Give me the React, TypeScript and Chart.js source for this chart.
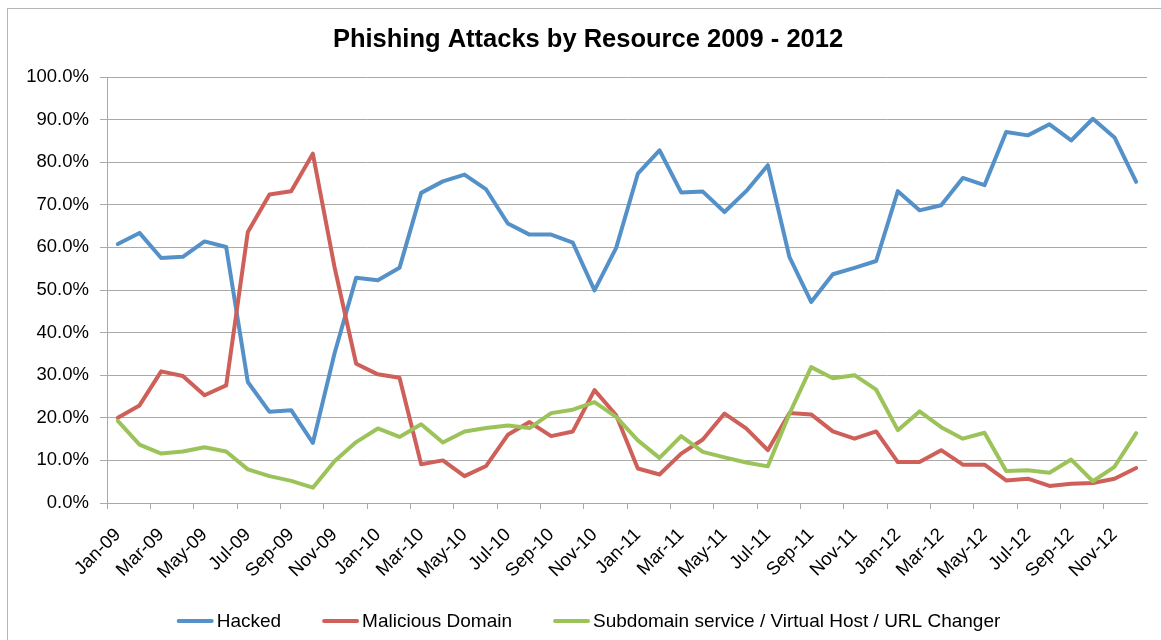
import React, { useEffect, useRef } from "react";
import { Chart, registerables } from "chart.js";

Chart.register(...registerables);

const months: string[] = [
  "Jan-09", "Feb-09", "Mar-09", "Apr-09", "May-09", "Jun-09", "Jul-09", "Aug-09", "Sep-09", "Oct-09", "Nov-09", "Dec-09",
  "Jan-10", "Feb-10", "Mar-10", "Apr-10", "May-10", "Jun-10", "Jul-10", "Aug-10", "Sep-10", "Oct-10", "Nov-10", "Dec-10",
  "Jan-11", "Feb-11", "Mar-11", "Apr-11", "May-11", "Jun-11", "Jul-11", "Aug-11", "Sep-11", "Oct-11", "Nov-11", "Dec-11",
  "Jan-12", "Feb-12", "Mar-12", "Apr-12", "May-12", "Jun-12", "Jul-12", "Aug-12", "Sep-12", "Oct-12", "Nov-12", "Dec-12",
];

const hacked: number[] = [
  60.8, 63.4, 57.5, 57.8, 61.4, 60.1, 28.4, 21.4, 21.8, 14.1, 35.1, 52.9,
  52.3, 55.2, 72.8, 75.5, 77.1, 73.6, 65.6, 63.0, 63.0, 61.1, 49.9, 59.9,
  77.3, 82.8, 72.9, 73.1, 68.3, 73.2, 79.3, 57.7, 47.2, 53.7, 55.2, 56.8,
  73.2, 68.7, 69.9, 76.3, 74.6, 87.1, 86.3, 88.9, 85.1, 90.2, 85.8, 75.4,
];

const maliciousDomain: number[] = [
  20.0, 22.9, 30.9, 29.8, 25.3, 27.6, 63.6, 72.4, 73.2, 82.0, 55.4, 32.7,
  30.2, 29.4, 9.1, 10.0, 6.3, 8.7, 16.0, 19.0, 15.7, 16.8, 26.5, 20.6,
  8.1, 6.7, 11.6, 14.9, 21.0, 17.5, 12.4, 21.1, 20.8, 16.8, 15.1, 16.8,
  9.6, 9.6, 12.4, 9.0, 9.0, 5.3, 5.7, 4.0, 4.5, 4.7, 5.7, 8.2,
];

const subdomain: number[] = [
  19.3, 13.7, 11.6, 12.1, 13.1, 12.1, 7.9, 6.3, 5.2, 3.6, 9.8, 14.3,
  17.5, 15.5, 18.5, 14.2, 16.8, 17.6, 18.2, 17.6, 21.1, 21.9, 23.7, 20.2,
  14.7, 10.6, 15.7, 12.0, 10.7, 9.5, 8.6, 21.0, 31.9, 29.3, 30.0, 26.6,
  17.1, 21.5, 17.8, 15.1, 16.5, 7.5, 7.7, 7.1, 10.2, 5.1, 8.5, 16.4,
];

const seriesNames: string[] = [
  "Hacked",
  "Malicious Domain",
  "Subdomain service / Virtual Host / URL Changer",
];
const seriesColors: string[] = ["#5591C9", "#CE5F59", "#9CC35A"];

const titleText = "Phishing Attacks by Resource 2009 - 2012";
const FONT = "'Liberation Sans', Arial, Helvetica, sans-serif";
const GRID = "#a9a9a9";

const decorPlugin = {
  id: "decor",
  beforeDraw(chart: any) {
    const ctx = chart.ctx;
    ctx.save();
    ctx.fillStyle = "#ffffff";
    ctx.fillRect(0, 0, chart.width, chart.height);
    ctx.strokeStyle = "#b5b5b5";
    ctx.lineWidth = 1;
    ctx.strokeRect(7.5, 8.5, 1400, 1000);
    ctx.restore();
  },
  afterDraw(chart: any) {
    const ctx = chart.ctx;
    ctx.save();
    // title
    ctx.fillStyle = "#000";
    ctx.font = `bold 25.5px ${FONT}`;
    ctx.textAlign = "center";
    ctx.textBaseline = "middle";
    ctx.fillText(titleText, 588, 40);
    // legend
    ctx.font = `19px ${FONT}`;
    ctx.textAlign = "left";
    const lineW = 35;
    const gapText = 4;
    const gapItem = 42;
    const widths = seriesNames.map((n) => lineW + gapText + ctx.measureText(n).width);
    const total = widths.reduce((a, b) => a + b, 0) + gapItem * (seriesNames.length - 1);
    let x = 589 - total / 2;
    const y = 621;
    seriesNames.forEach((n, i) => {
      ctx.strokeStyle = seriesColors[i];
      ctx.lineWidth = 4;
      ctx.lineCap = "round";
      ctx.beginPath();
      ctx.moveTo(x + 1, y);
      ctx.lineTo(x + lineW - 1, y);
      ctx.stroke();
      ctx.fillStyle = "#000";
      ctx.fillText(n, x + lineW + gapText, y + 1);
      x += widths[i] + gapItem;
    });
    ctx.restore();
  },
};

export default function App() {
  const ref = useRef<HTMLCanvasElement | null>(null);
  useEffect(() => {
    if (!ref.current) return;
    const data = [hacked, maliciousDomain, subdomain];
    const chart = new Chart(ref.current, {
      type: "line",
      data: {
        labels: months,
        datasets: data.map((d, i) => ({
          label: seriesNames[i],
          data: d.map((v) => v / 100),
          borderColor: seriesColors[i],
          backgroundColor: seriesColors[i],
          borderWidth: 4,
          pointRadius: 0,
          tension: 0,
          borderJoinStyle: "round" as const,
          borderCapStyle: "round" as const,
          order: 3 - i,
        })),
      },
      options: {
        responsive: false,
        animation: false,
        layout: { padding: { top: 77, right: 14, left: 0, bottom: 0 } },
        plugins: {
          legend: { display: false },
          title: { display: false },
          tooltip: { enabled: false },
        },
        scales: {
          y: {
            min: 0,
            max: 1,
            afterFit: (s: any) => {
              s.width = 107;
            },
            ticks: {
              stepSize: 0.1,
              padding: 11,
              color: "#000",
              font: { family: FONT, size: 18.5 },
              callback: (v: any) => (Number(v) * 100).toFixed(1) + "%",
            },
            grid: { color: GRID, tickLength: 7, lineWidth: 1 },
            border: { color: GRID },
          },
          x: {
            offset: true,
            afterFit: (s: any) => {
              s.height = 137;
              s.paddingRight = 0;
              s.paddingLeft = 0;
            },
            ticks: {
              autoSkip: false,
              minRotation: 45,
              maxRotation: 45,
              padding: 15,
              color: "#000",
              font: { family: FONT, size: 18.5 },
              callback: (_v: any, i: number) => (i % 2 === 0 ? months[i] : ""),
            },
            grid: {
              offset: true,
              drawOnChartArea: false,
              tickLength: 6,
              tickColor: (c: any) => (c.index % 2 === 0 ? GRID : "rgba(0,0,0,0)"),
              color: GRID,
            },
            border: { color: GRID },
          },
        },
      },
      plugins: [decorPlugin],
    });
    return () => chart.destroy();
  }, []);
  return (
    <div style={{ position: "fixed", left: 0, top: 0, width: 1161, height: 640, background: "#fff" }}>
      <canvas ref={ref} width={1161} height={640} style={{ display: "block" }} />
    </div>
  );
}
